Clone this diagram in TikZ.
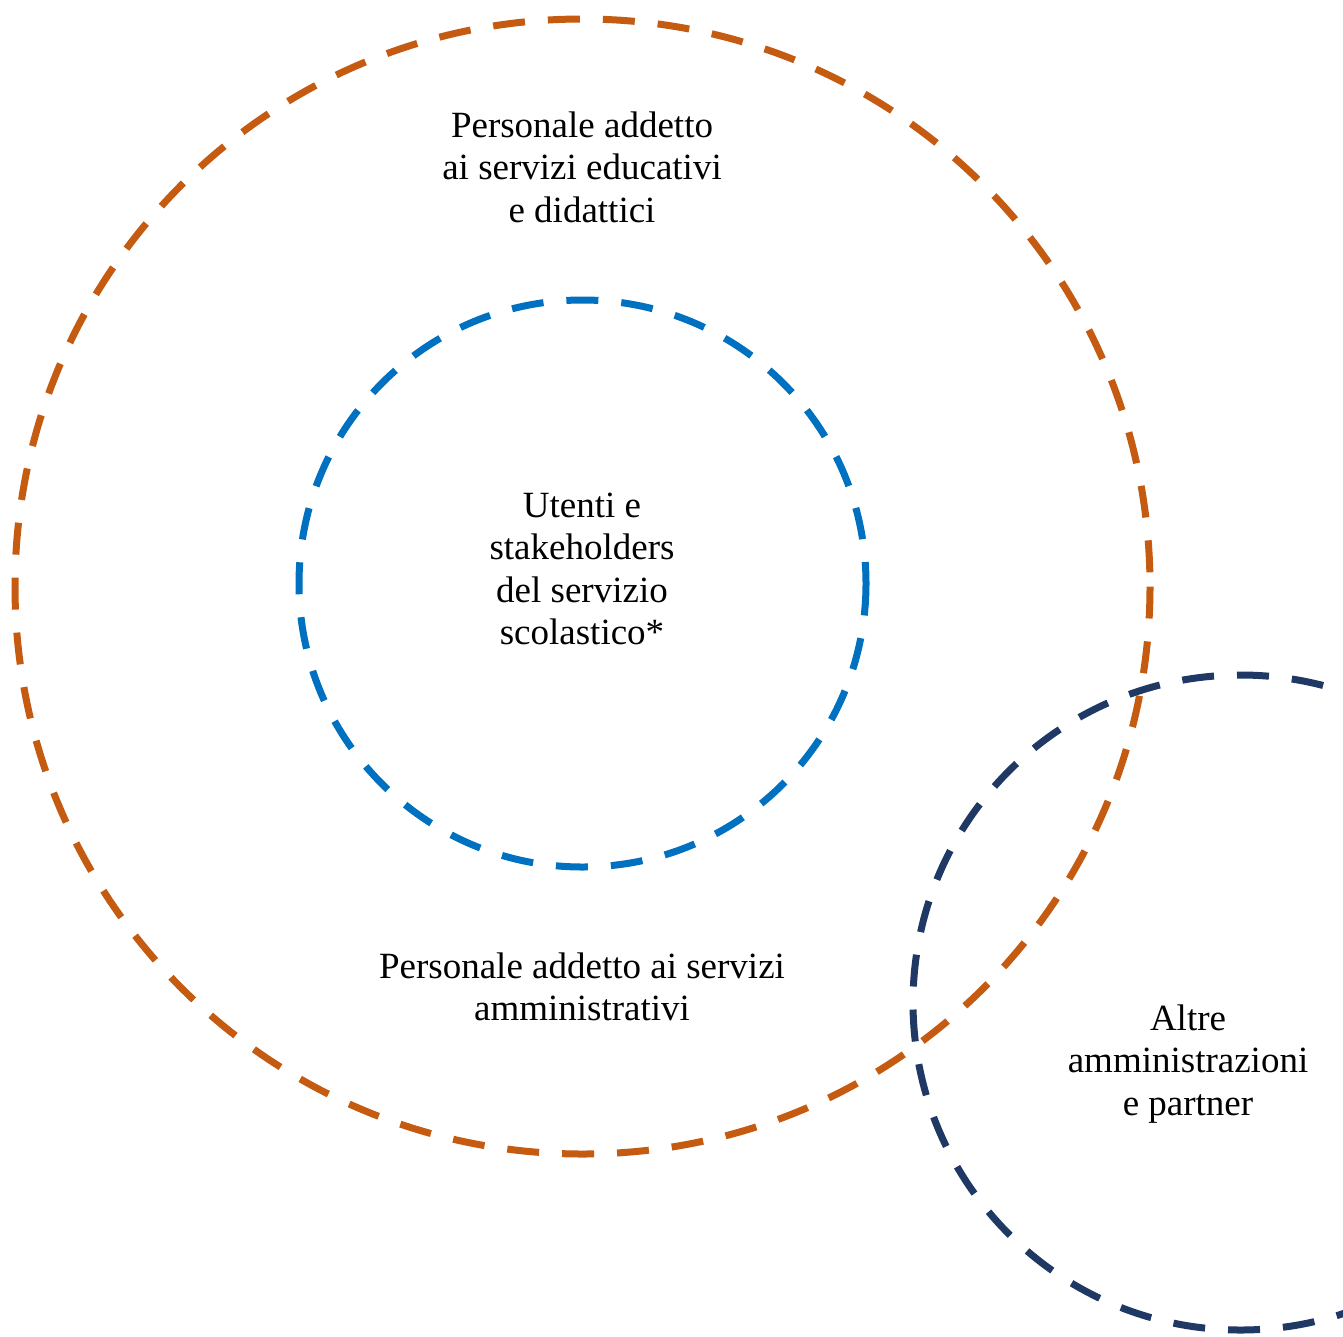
\documentclass[tikz,border=0pt]{standalone}
\usepackage{fontspec}
\setmainfont{Liberation Serif}
\definecolor{orangeC}{HTML}{C55A11}
\definecolor{blueC}{HTML}{0070C0}
\definecolor{navyC}{HTML}{203864}
\begin{document}
\begin{tikzpicture}[x=1pt,y=-1pt,
  ring/.style={line width=7pt,dash pattern=on 32pt off 23pt},
  lbl/.style={align=center,inner sep=0pt,font=\fontsize{37}{42.5}\selectfont}]
\useasboundingbox (0,0) rectangle (1343,1336);
\draw[ring,draw=orangeC] (582.5,586.5) circle[radius=567.5];
\draw[ring,draw=blueC] (582.5,583.5) circle[radius=283.5];
\draw[ring,draw=navyC] (1240.5,1002.5) circle[radius=327.5];
\node[lbl] (edu) at (582,167) {Personale addetto\\ai servizi educativi\\e didattici};
\node[lbl] (ut) at (582,569) {Utenti e\\stakeholders\\del servizio\\scolastico*};
\node[lbl] (amm) at (582,987) {Personale addetto ai servizi\\amministrativi};
\node[lbl] (alt) at (1188,1064) {Altre\\amministrazioni\\e partner};
\end{tikzpicture}
\end{document}
